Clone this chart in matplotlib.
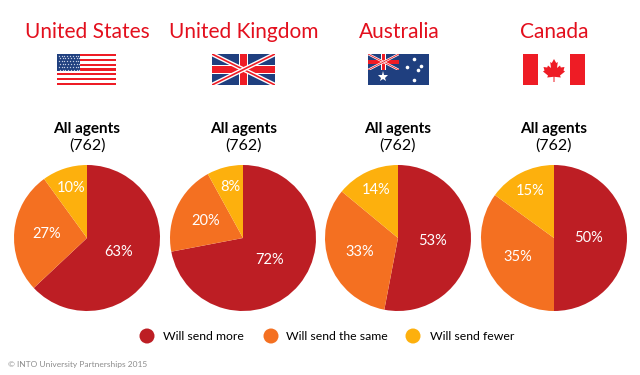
import numpy as np
import matplotlib
matplotlib.use('Agg')
import matplotlib.pyplot as plt
from matplotlib.patches import Rectangle, Polygon, Circle

plt.rcParams['font.family'] = ['Lato', 'DejaVu Sans']

countries = ['United States', 'United Kingdom', 'Australia', 'Canada']
more = [63, 72, 53, 50]
same = [27, 20, 33, 35]
fewer = [10, 8, 14, 15]
group_label = 'All agents'
group_count = '(762)'
legend_labels = ['Will send more', 'Will send the same', 'Will send fewer']
credit = '\u00a9 INTO University Partnerships 2015'

W, H = 640, 375
RED = '#bd1e24'
ORANGE = '#f47021'
YELLOW = '#fdb00d'
TITLE_RED = '#e30f1d'
FLAG_RED = '#ee1c25'
NAVY = '#1f3f7f'
colors = [RED, ORANGE, YELLOW]

centers = [87, 243, 398, 554]
title_x = [87, 244, 399, 554]
label_x = [87, 244, 398, 554]
radius = 73
cy = 238
# how far out the percent labels sit, per series
label_dist = [0.47, 0.56, 0.72]

fig = plt.figure(figsize=(6.4, 3.75), dpi=100)

# overlay in pixel coords for text and flags
bg = fig.add_axes([0, 0, 1, 1])
bg.set_xlim(0, W)
bg.set_ylim(H, 0)
bg.axis('off')


def union_jack(ax, x0, y0, w, h):
    ax.add_patch(Rectangle((x0, y0), w, h, fc=NAVY, ec='none'))
    x1, y1 = x0 + w, y0 + h
    k = h / 31
    clip = Rectangle((x0, y0), w, h, transform=ax.transData)
    for a, b in [((x0, y0), (x1, y1)), ((x0, y1), (x1, y0))]:
        for col, lw in [('white', 3.2 * k), (FLAG_RED, 1.2 * k)]:
            line, = ax.plot([a[0], b[0]], [a[1], b[1]], color=col, lw=lw, solid_capstyle='butt')
            line.set_clip_path(clip)
    cx, cy_ = x0 + w / 2, y0 + h / 2
    t, tw = 3.2 * k, 4.4 * k
    ax.add_patch(Rectangle((cx - tw, y0), 2 * tw, h, fc='white', ec='none'))
    ax.add_patch(Rectangle((x0, cy_ - tw), w, 2 * tw, fc='white', ec='none'))
    ax.add_patch(Rectangle((cx - t, y0), 2 * t, h, fc=FLAG_RED, ec='none'))
    ax.add_patch(Rectangle((x0, cy_ - t), w, 2 * t, fc=FLAG_RED, ec='none'))


def us_flag(ax, x0, y0, w, h):
    sh = h / 13
    for i in range(13):
        ax.add_patch(Rectangle((x0, y0 + i * sh), w, sh, fc=FLAG_RED if i % 2 == 0 else 'white', ec='none'))
    ax.add_patch(Rectangle((x0, y0), 23, 7 * sh, fc=NAVY, ec='none'))
    for r in range(6):
        for c in range(8):
            ax.plot(x0 + 1.8 + c * 2.8 + (r % 2) * 1.0, y0 + 1.5 + r * 2.9, 's', ms=0.9, color='#c5cfe4', mew=0)


def aus_flag(ax, x0, y0, w, h):
    ax.add_patch(Rectangle((x0, y0), w, h, fc=NAVY, ec='none'))
    union_jack(ax, x0, y0, 31, 16)
    ax.plot(x0 + 15, y0 + 23, marker='*', ms=8, color='white', mew=0)
    for sx, sy in [(46, 5), (39, 13), (53, 12), (50, 16), (46, 26)]:
        ax.plot(x0 + sx, y0 + sy, marker='o', ms=2.6, color='white', mew=0)


def canada_flag(ax, x0, y0, w, h):
    ax.add_patch(Rectangle((x0, y0), w, h, fc='white', ec='none'))
    ax.add_patch(Rectangle((x0, y0), 15, h, fc=FLAG_RED, ec='none'))
    ax.add_patch(Rectangle((x0 + w - 15, y0), 15, h, fc=FLAG_RED, ec='none'))
    cx = x0 + w / 2
    half = [(0, 5), (2.2, 9), (3.8, 8), (3, 14), (6, 11.5), (6.8, 13.5), (10.5, 13), (9.5, 16.5), (11, 17.5),
            (6, 21.5), (6.8, 23.5), (0.5, 22.8), (0.5, 28)]
    pts = [(cx + a, y0 + b) for a, b in half] + [(cx - a, y0 + b) for a, b in reversed(half)]
    ax.add_patch(Polygon(pts, fc=FLAG_RED, ec='none'))


us_flag(bg, 57, 54, 59, 31)
union_jack(bg, 212, 54, 63, 31)
aus_flag(bg, 368, 54, 61, 31)
canada_flag(bg, 523, 54, 62, 31)
bg.set_xlim(0, W)
bg.set_ylim(H, 0)

for i, name in enumerate(countries):
    bg.text(title_x[i], 32, name, color=TITLE_RED, fontsize=15, ha='center', va='center')
    bg.text(label_x[i], 128.5, group_label, color='black', fontsize=11, fontweight='bold', ha='center', va='center')
    bg.text(label_x[i], 146, group_count, color='black', fontsize=11.5, ha='center', va='center')

    ax = fig.add_axes([(centers[i] - radius) / W, 1 - (cy + radius) / H, 2 * radius / W, 2 * radius / H])
    vals = [more[i], same[i], fewer[i]]
    wedges, _ = ax.pie(vals, colors=colors, startangle=90, counterclock=False, radius=1)
    for w, v, d in zip(wedges, vals, label_dist):
        ang = np.deg2rad((w.theta1 + w.theta2) / 2)
        ax.text(d * np.cos(ang), d * np.sin(ang), '%d%%' % v, color='white', fontsize=10.5,
                ha='center', va='center')
    ax.set_xlim(-1, 1)
    ax.set_ylim(-1, 1)

# legend, drawn by hand to sit at the measured spots
legend_dot_x = [147, 271, 413]
legend_text_x = [163, 286, 430]
for x, tx, lab, c in zip(legend_dot_x, legend_text_x, legend_labels, colors):
    bg.add_patch(Circle((x, 336), 7.5, fc=c, ec='none'))
    bg.text(tx, 336, lab, color='black', fontsize=8.8, ha='left', va='center')

bg.text(8, 365, credit, color='#8c8c8c', fontsize=6, ha='left', va='center')

fig.savefig('out.png', dpi=100)
